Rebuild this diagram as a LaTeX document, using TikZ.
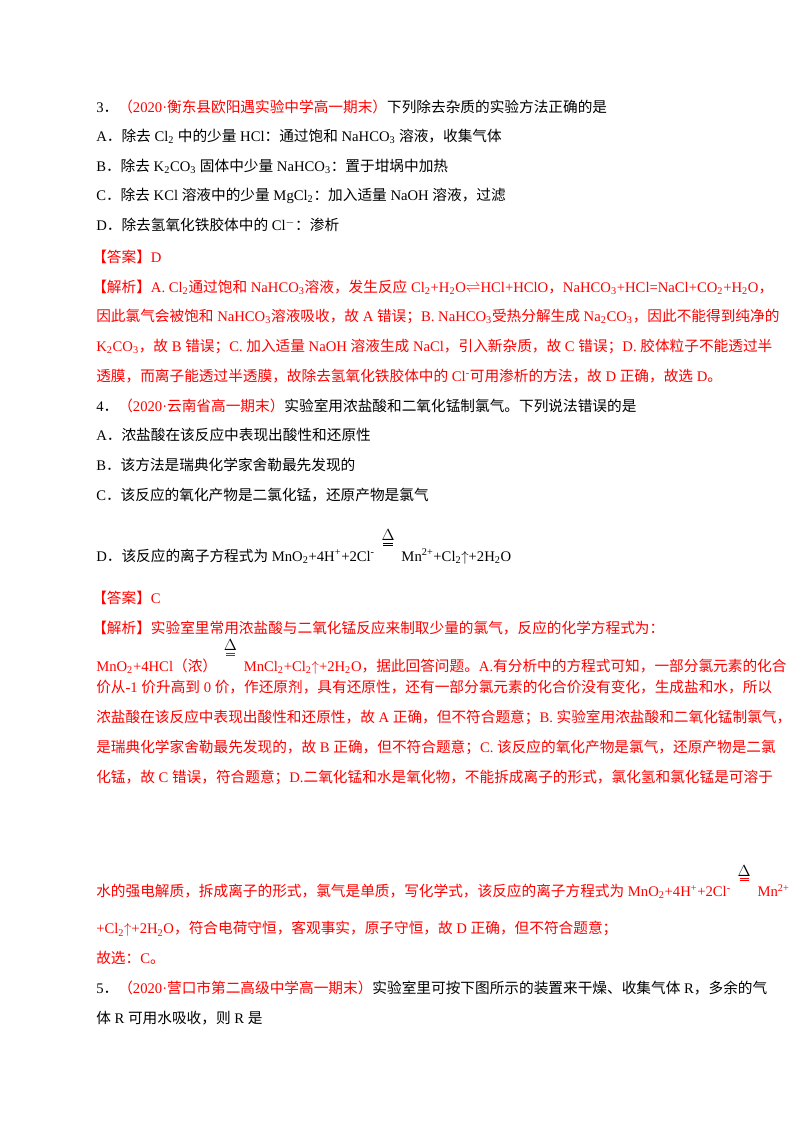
\documentclass[tikz,border=0pt]{standalone}
\usepackage{fontspec}
\setmainfont{Liberation Serif}
\newfontfamily\cjk{Noto Sans CJK SC}
\XeTeXinterchartokenstate=1
\newXeTeXintercharclass\cjkclass
\makeatletter
\count@="3000 \loop\ifnum\count@<"3040 \XeTeXcharclass\count@=\cjkclass \advance\count@ 1 \repeat
\count@="4E00 \loop\ifnum\count@<"A000 \XeTeXcharclass\count@=\cjkclass \advance\count@ 1 \repeat
\count@="FF00 \loop\ifnum\count@<"FFF0 \XeTeXcharclass\count@=\cjkclass \advance\count@ 1 \repeat
\makeatother
\XeTeXinterchartoks 0 \cjkclass = {\begingroup\cjk}
\XeTeXinterchartoks 4095 \cjkclass = {\begingroup\cjk}
\XeTeXinterchartoks \cjkclass 0 = {\endgroup}
\XeTeXinterchartoks \cjkclass 4095 = {\endgroup}
\newcommand\dn[1]{\textsubscript{#1}}
\newcommand\up[1]{\textsuperscript{#1}}
\newcommand\heq{\tikz[baseline=0pt]{\node[anchor=south,inner sep=0pt,text=black,font=\fontsize{12}{12}\selectfont] at (0,15pt) {$\Delta$};\draw[line width=0.5pt] (-3.5pt,13.6pt)--(3.5pt,13.6pt) (-3.5pt,12pt)--(3.5pt,12pt);\path (-10pt,0) (10pt,0);}}
\begin{document}
\begin{tikzpicture}[x=0.75pt,y=-0.75pt,
 t/.style={anchor=west,inner sep=0pt,font=\fontsize{11}{13}\selectfont},
 r/.style={t,text=red}]
\useasboundingbox (0,0) rectangle (800,1132);
\node[t] (l1) at (96,107) {3．\textcolor{red}{（2020·衡东县欧阳遇实验中学高一期末）}下列除去杂质的实验方法正确的是};
\node[t] (l2) at (96,136) {A．除去 Cl\dn{2} 中的少量 HCl：通过饱和 NaHCO\dn{3} 溶液，收集气体};
\node[t] (l3) at (96,166) {B．除去 K\dn{2}CO\dn{3} 固体中少量 NaHCO\dn{3}：置于坩埚中加热};
\node[t] (l4) at (96,196) {C．除去 KCl 溶液中的少量 MgCl\dn{2}：加入适量 NaOH 溶液，过滤};
\node[t] (l5) at (96,225) {D．除去氢氧化铁胶体中的 Cl$^{-}$：渗析};
\node[r] (l6) at (92,257) {【答案】D};
\node[r] (l7) at (92,287) {【解析】A. Cl\dn{2}通过饱和 NaHCO\dn{3}溶液，发生反应 Cl\dn{2}+H\dn{2}O$\rightleftharpoons$HCl+HClO，NaHCO\dn{3}+HCl=NaCl+CO\dn{2}+H\dn{2}O，};
\node[r] (l8) at (96,316) {因此氯气会被饱和 NaHCO\dn{3}溶液吸收，故 A 错误；B. NaHCO\dn{3}受热分解生成 Na\dn{2}CO\dn{3}，因此不能得到纯净的};
\node[r] (l9) at (96,346) {K\dn{2}CO\dn{3}，故 B 错误；C. 加入适量 NaOH 溶液生成 NaCl，引入新杂质，故 C 错误；D. 胶体粒子不能透过半};
\node[r] (l10) at (96,376) {透膜，而离子能透过半透膜，故除去氢氧化铁胶体中的 Cl\up{-}可用渗析的方法，故 D 正确，故选 D。};
\node[t] (l11) at (96,406) {4．\textcolor{red}{（2020·云南省高一期末）}实验室用浓盐酸和二氧化锰制氯气。下列说法错误的是};
\node[t] (l12) at (96,435) {A．浓盐酸在该反应中表现出酸性和还原性};
\node[t] (l13) at (96,465) {B．该方法是瑞典化学家舍勒最先发现的};
\node[t] (l14) at (96,495) {C．该反应的氧化产物是二氯化锰，还原产物是氯气};
\node[t] (l15) at (96,547) {D．该反应的离子方程式为 MnO\dn{2}+4H\up{+}+2Cl\up{-}\heq Mn\up{2+}+Cl\dn{2}$\uparrow$+2H\dn{2}O};
\node[r] (l16) at (92,598) {【答案】C};
\node[r] (l17) at (92,628) {【解析】实验室里常用浓盐酸与二氧化锰反应来制取少量的氯气，反应的化学方程式为：};
\node[r] (l18) at (96,657) {MnO\dn{2}+4HCl（浓）\heq MnCl\dn{2}+Cl\dn{2}$\uparrow$+2H\dn{2}O，据此回答问题。A.有分析中的方程式可知，一部分氯元素的化合};
\node[r] (l19) at (96,687) {价从-1 价升高到 0 价，作还原剂，具有还原性，还有一部分氯元素的化合价没有变化，生成盐和水，所以};
\node[r] (l20) at (96,717) {浓盐酸在该反应中表现出酸性和还原性，故 A 正确，但不符合题意；B. 实验室用浓盐酸和二氧化锰制氯气，};
\node[r] (l21) at (96,747) {是瑞典化学家舍勒最先发现的，故 B 正确，但不符合题意；C. 该反应的氧化产物是氯气，还原产物是二氯};
\node[r] (l22) at (96,777) {化锰，故 C 错误，符合题意；D.二氧化锰和水是氧化物，不能拆成离子的形式，氯化氢和氯化锰是可溶于};
\node[r] (l23) at (96,882) {水的强电解质，拆成离子的形式，氯气是单质，写化学式，该反应的离子方程式为 MnO\dn{2}+4H\up{+}+2Cl\up{-}\heq Mn\up{2+}};
\node[r] (l24) at (96,929) {+Cl\dn{2}$\uparrow$+2H\dn{2}O，符合电荷守恒，客观事实，原子守恒，故 D 正确，但不符合题意；};
\node[r] (l25) at (96,958) {故选：C。};
\node[t] (l26) at (96,988) {5．\textcolor{red}{（2020·营口市第二高级中学高一期末）}实验室里可按下图所示的装置来干燥、收集气体 R，多余的气};
\node[t] (l27) at (96,1018) {体 R 可用水吸收，则 R 是};
\end{tikzpicture}
\end{document}
